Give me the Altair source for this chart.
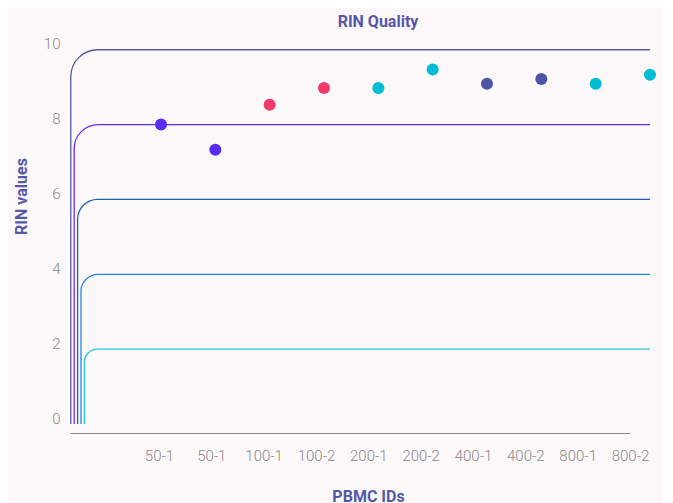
import altair as alt
import pandas as pd

ids = ["50-1", "50-1", "100-1", "100-2", "200-1", "200-2", "400-1", "400-2", "800-1", "800-2"]
rin = [8.0, 7.33, 8.53, 8.98, 8.98, 9.47, 9.09, 9.22, 9.09, 9.33]
groups = ["50", "50", "100", "100", "200", "200", "400", "400", "800", "800"]
group_domain = ["50", "100", "200", "400", "800"]
group_colors = ["#5a2df0", "#ef3b6a", "#00bcd4", "#4f54a6", "#00bcd4"]

grid_values = [10, 8, 6, 4, 2]
grid_colors = ["#5558a8", "#6a2cf2", "#1e5fb0", "#1e88e5", "#26c6da"]
grid_inset = [0.8, 4.2, 7.6, 11.0, 14.4]
grid_radius = [27, 24, 20, 17, 13]

W, H = 580, 378
INDIGO = "#5558a8"

df = pd.DataFrame({"idx": list(range(len(ids))), "id": ids, "rin": rin, "group": groups})

yscale = alt.Scale(domain=[0, 10.1], nice=False, zero=True)
yaxis = alt.Axis(
    title="RIN values", values=[0, 2, 4, 6, 8, 10], grid=False, domain=False, ticks=False,
    tickSize=0, labelPadding=10, labelOffset=-6, labelFont="Roboto", labelFontSize=15,
    labelFontWeight=300, labelColor="#8a8a8a", titleFont="Roboto", titleFontSize=16,
    titleFontWeight="bold", titleColor=INDIGO, titlePadding=14, titleY=150,
)

layers = []
for v, c, ins, r in zip(grid_values, grid_colors, grid_inset, grid_radius):
    layers.append(
        alt.Chart(pd.DataFrame({"v": [v]}))
        .mark_rect(fillOpacity=0, stroke=c, strokeWidth=1.3, cornerRadiusTopLeft=r, clip=True)
        .encode(
            x=alt.value(ins),
            x2=alt.value(W + 80),
            y=alt.Y("v:Q", scale=yscale, axis=yaxis),
            y2=alt.value(H + 80),
        )
    )

label_expr = "[" + ",".join("'" + s + "'" for s in ids) + "][datum.value]"

axis_layer = alt.Chart(df).mark_point(opacity=0).encode(
    x=alt.X(
        "idx:Q",
        scale=alt.Scale(domain=[-1.70, 9], range=[0, 560], nice=False, zero=False),
        axis=alt.Axis(
            title="PBMC IDs", values=list(range(len(ids))), labelExpr=label_expr,
            grid=False, ticks=False, tickSize=0, offset=9, domainColor="#888888",
            domainWidth=1, labelPadding=15, labelFont="Roboto", labelFontSize=15,
            labelFontWeight=300, labelColor="#8a8a8a", labelFlush=False, labelOverlap=False,
            titleFont="Roboto", titleFontSize=16, titleFontWeight="bold", titleColor=INDIGO,
            titlePadding=25, titleX=298,
        ),
    ),
    y=alt.Y("rin:Q", scale=yscale, axis=yaxis),
)

points = alt.Chart(df).mark_circle(size=145, opacity=1).encode(
    x=alt.X("idx:Q", scale=alt.Scale(domain=[-1.675, 9], nice=False, zero=False), axis=None),
    y=alt.Y("rin:Q", scale=yscale, axis=yaxis),
    color=alt.Color("group:N", scale=alt.Scale(domain=group_domain, range=group_colors), legend=None),
)

chart = (
    alt.layer(*layers, axis_layer, points)
    .resolve_scale(x="independent")
    .properties(
        width=W,
        height=H,
        title=alt.TitleParams(
            "RIN Quality", font="Roboto", fontSize=16, fontWeight="bold", color=INDIGO,
            anchor="middle", frame="group", dx=18, offset=7,
        ),
    )
    .configure(background="#fcf8fa")
    .configure_view(stroke=None)
)

chart.save("out.html", embed_options={"renderer": "svg", "actions": False})
